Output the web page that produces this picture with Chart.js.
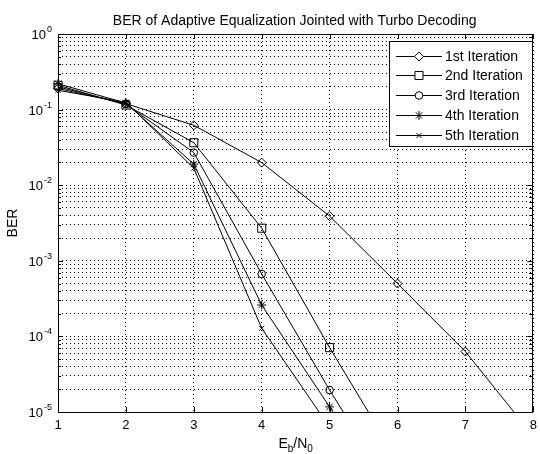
<!DOCTYPE html>
<html>
<head>
<meta charset="utf-8">
<script src="https://cdn.jsdelivr.net/npm/chart.js@4/dist/chart.umd.min.js"></script>
<style>
html,body{margin:0;padding:0;background:#fff;}
#wrap{width:540px;height:454px;position:relative;}
</style>
</head>
<body>
<div id="wrap"><canvas id="c" width="540" height="454"></canvas></div>
<script>
// ---- data ----
const ebn0 = [1, 2, 3, 4, 5, 6, 7, 8];
const iter1 = [0.19, 0.12, 0.062, 0.0199, 0.0039, 0.0005, 0.000063, 0.0000048];
const iter2 = [0.21, 0.115, 0.0365, 0.0027, 0.000071, 0.0000023];
const iter3 = [0.20, 0.118, 0.027, 0.00067, 0.0000195, 0.0000007];
const iter4 = [0.22, 0.122, 0.019, 0.00026, 0.0000117, 0.0000006];
const iter5 = [0.18, 0.125, 0.0168, 0.000128, 0.0000063];
const seriesNames = ['1st Iteration', '2nd Iteration', '3rd Iteration', '4th Iteration', '5th Iteration'];
const xTicks = [1, 2, 3, 4, 5, 6, 7, 8];
const yExponents = [0, -1, -2, -3, -4, -5];
const titleText = 'BER of Adaptive Equalization Jointed with Turbo Decoding';

const FONT = '"Liberation Sans", Arial, Helvetica, sans-serif';
const styles = [
  {pointStyle: 'rectRot', radius: 4.5},
  {pointStyle: 'rect', radius: 5.7},
  {pointStyle: 'circle', radius: 3.8},
  {pointStyle: 'star', radius: 4.5},
  {pointStyle: 'crossRot', radius: 3.5}
];
const allSeries = [iter1, iter2, iter3, iter4, iter5];

const datasets = allSeries.map((s, i) => ({
  label: seriesNames[i],
  data: s.map((v, j) => ({x: ebn0[j], y: v})),
  borderColor: '#000',
  borderWidth: 1,
  backgroundColor: 'rgba(0,0,0,0)',
  pointBorderColor: '#000',
  pointBackgroundColor: 'rgba(0,0,0,0)',
  pointBorderWidth: 1,
  pointStyle: styles[i].pointStyle,
  pointRadius: styles[i].radius,
  tension: 0,
  clip: {left: 8, top: 0, right: 0, bottom: 0}
}));

// minor log grid values
const yGridVals = [];
for (let e = -5; e <= 0; e++) {
  for (let m = 1; m <= 9; m++) {
    const v = m * Math.pow(10, e);
    if (v <= 1.0000001) yGridVals.push(v);
  }
}

const decor = {
  id: 'decor',
  afterDraw(chart) {
    const ctx = chart.ctx;
    const a = chart.chartArea;
    const xs = chart.scales.x, ys = chart.scales.y;
    ctx.save();
    ctx.strokeStyle = '#000';
    ctx.lineWidth = 1;
    ctx.setLineDash([]);
    // frame
    ctx.strokeRect(Math.round(a.left) + 0.5, Math.round(a.top) + 0.5,
                   Math.round(a.right - a.left) - 1, Math.round(a.bottom - a.top));
    // x ticks (inward)
    ctx.beginPath();
    xTicks.forEach(v => {
      const px = Math.round(xs.getPixelForValue(v)) + 0.5;
      ctx.moveTo(px, a.bottom); ctx.lineTo(px, a.bottom - 5);
      ctx.moveTo(px, a.top); ctx.lineTo(px, a.top + 5);
    });
    // y ticks (major + minor)
    yGridVals.forEach(v => {
      const py = Math.round(ys.getPixelForValue(v)) + 0.5;
      const lg = Math.log10(v);
      const len = Math.abs(lg - Math.round(lg)) < 1e-6 ? 5 : 3;
      ctx.moveTo(a.left, py); ctx.lineTo(a.left + len, py);
      ctx.moveTo(a.right - 1, py); ctx.lineTo(a.right - 1 - len, py);
    });
    ctx.stroke();

    ctx.fillStyle = '#000';
    // x tick labels
    ctx.font = '13px ' + FONT;
    ctx.textAlign = 'center';
    ctx.textBaseline = 'alphabetic';
    xTicks.forEach(v => {
      ctx.fillText(String(v), xs.getPixelForValue(v), a.bottom + 17);
    });
    // y tick labels: 10 with superscript exponent
    yExponents.forEach(e => {
      const py = ys.getPixelForValue(Math.pow(10, e));
      const expStr = String(e);
      ctx.font = '9px ' + FONT;
      const ew = ctx.measureText(expStr).width;
      ctx.font = '13px ' + FONT;
      const bw = ctx.measureText('10').width;
      const right = a.left - 6;
      ctx.textAlign = 'left';
      ctx.fillText('10', right - ew - bw - 1, py + 5);
      ctx.font = '9px ' + FONT;
      ctx.fillText(expStr, right - ew, py - 2);
    });
    // title
    ctx.font = '14px ' + FONT;
    ctx.textAlign = 'center';
    ctx.fillText(titleText, (a.left + a.right) / 2 - 1, 25);
    // x axis label E_b/N_0
    const parts = [['E', 14, 0], ['b', 10, 4], ['/N', 14, 0], ['0', 10, 4]];
    let tw = 0;
    parts.forEach(p => { ctx.font = p[1] + 'px ' + FONT; tw += ctx.measureText(p[0]).width; });
    let cx = (a.left + a.right) / 2 - tw / 2;
    ctx.textAlign = 'left';
    parts.forEach(p => {
      ctx.font = p[1] + 'px ' + FONT;
      ctx.fillText(p[0], cx, 448 + p[2]);
      cx += ctx.measureText(p[0]).width;
    });
    // y axis label
    ctx.save();
    ctx.translate(17, (a.top + a.bottom) / 2);
    ctx.rotate(-Math.PI / 2);
    ctx.font = '14px ' + FONT;
    ctx.textAlign = 'center';
    ctx.fillText('BER', 0, 0);
    ctx.restore();

    // legend
    const lx = 389.5, ly = 41.5, lw = 143, lh = 105;
    ctx.fillStyle = '#fff';
    ctx.fillRect(lx, ly, lw, lh);
    ctx.strokeStyle = '#000';
    ctx.strokeRect(lx, ly, lw, lh);
    chart.data.datasets.forEach((ds, i) => {
      const y = Math.round(55.7 + i * 19.7) + 0.5;
      ctx.strokeStyle = '#000';
      ctx.lineWidth = 1;
      ctx.beginPath();
      ctx.moveTo(396, y); ctx.lineTo(442, y);
      ctx.stroke();
      ctx.fillStyle = '#fff';
      Chart.helpers.drawPoint(ctx, {
        pointStyle: ds.pointStyle, radius: ds.pointRadius, borderWidth: 1, rotation: 0
      }, 419, y);
      ctx.fillStyle = '#000';
      ctx.font = '14px ' + FONT;
      ctx.textAlign = 'left';
      ctx.textBaseline = 'middle';
      ctx.fillText(ds.label, 445, y + 1);
      ctx.textBaseline = 'alphabetic';
    });
    ctx.restore();
  }
};

const chart = new Chart(document.getElementById('c'), {
  type: 'line',
  data: {datasets},
  options: {
    responsive: false,
    animation: false,
    events: [],
    layout: {padding: {left: 0, right: 2, top: 34, bottom: 0}},
    plugins: {legend: {display: false}, tooltip: {enabled: false}, title: {display: false}},
    scales: {
      x: {
        type: 'linear', min: 1, max: 8,
        afterBuildTicks: s => { s.ticks = xTicks.map(v => ({value: v})); },
        afterFit: s => { s.height = 42; },
        ticks: {display: false},
        grid: {color: '#000', lineWidth: 1, drawTicks: false},
        border: {display: false, dash: [1, 3]}
      },
      y: {
        type: 'logarithmic', min: 1e-5, max: 1,
        afterBuildTicks: s => { s.ticks = yGridVals.map(v => ({value: v})); },
        afterFit: s => { s.width = 58; },
        ticks: {display: false},
        grid: {color: '#000', lineWidth: 1, drawTicks: false},
        border: {display: false, dash: [1, 3]}
      }
    }
  },
  plugins: [decor]
});
</script>
</body>
</html>
